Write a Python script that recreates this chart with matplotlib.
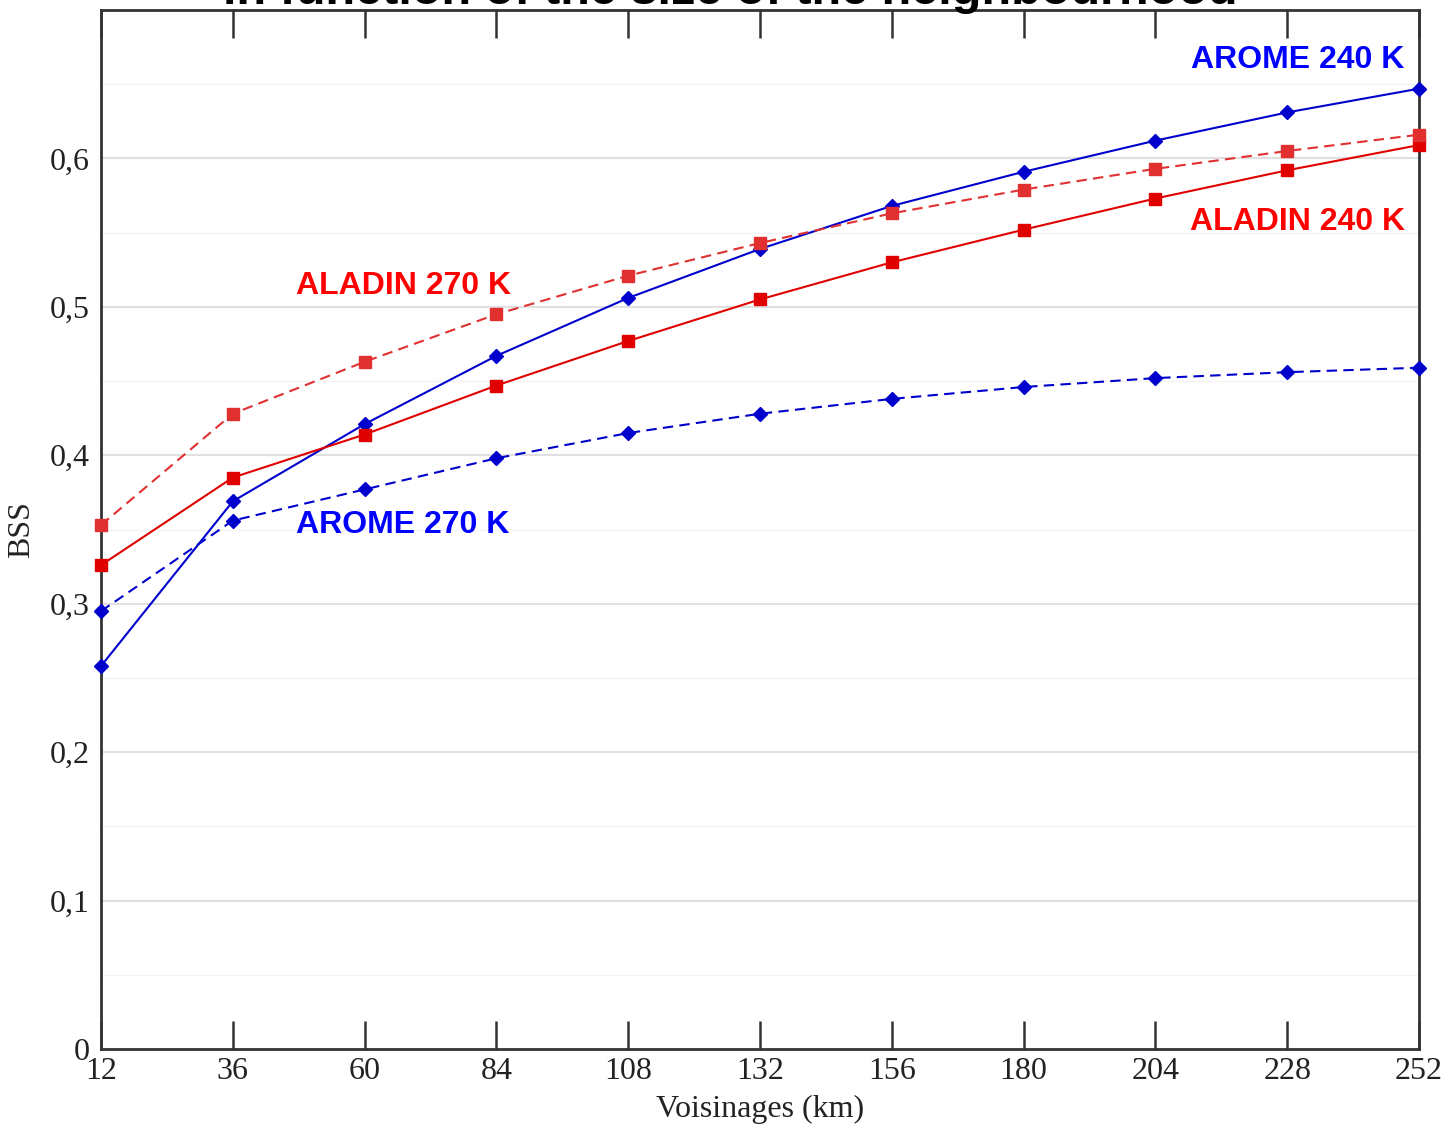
import numpy as np
import matplotlib.pyplot as plt

# neighbourhood sizes (km)
voisinages = [12, 36, 60, 84, 108, 132, 156, 180, 204, 228, 252]

# BSS values
arome_240 = [0.258, 0.369, 0.421, 0.467, 0.506, 0.539, 0.568, 0.591, 0.612, 0.631, 0.647]
arome_270 = [0.295, 0.356, 0.377, 0.398, 0.415, 0.428, 0.438, 0.446, 0.452, 0.456, 0.459]
aladin_240 = [0.326, 0.385, 0.414, 0.447, 0.477, 0.505, 0.530, 0.552, 0.573, 0.592, 0.609]
aladin_270 = [0.353, 0.428, 0.463, 0.495, 0.521, 0.543, 0.563, 0.579, 0.593, 0.605, 0.616]

yticks = [0, 0.1, 0.2, 0.3, 0.4, 0.5, 0.6]
ytick_labels = ['0', '0,1', '0,2', '0,3', '0,4', '0,5', '0,6']

blue = '#0000cc'
red = '#e00000'

fig = plt.figure(figsize=(14.47, 11.24), dpi=100)
ax = fig.add_axes([0.0698, 0.0667, 0.9108, 0.9244])

# grid lines (major + faint minor)
for y in np.arange(0.05, 0.7, 0.1):
    ax.axhline(y, color='#f3f3f3', lw=1, zorder=0)
for y in yticks[1:]:
    ax.axhline(y, color='#e0e0e0', lw=1.5, zorder=0)

ax.plot(voisinages, arome_240, '-', color=blue, lw=1.5, marker='D', ms=7, clip_on=False, zorder=3)
ax.plot(voisinages, arome_270, '--', color=blue, lw=1.5, marker='D', ms=7, dashes=(5, 3), clip_on=False, zorder=3)
ax.plot(voisinages, aladin_240, '-', color=red, lw=1.5, marker='s', ms=8, clip_on=False, zorder=3)
ax.plot(voisinages, aladin_270, '--', color='#e03030', lw=1.5, marker='s', ms=8, dashes=(5, 3), clip_on=False, zorder=3)

ax.set_xlim(12, 252)
ax.set_ylim(0, 0.7)
ax.set_xticks(voisinages)
ax.set_yticks(yticks)
ax.set_yticklabels(ytick_labels)
ax.tick_params(axis='x', direction='in', length=20, width=1.8, color='#333333',
               top=True, labelsize=23, pad=6, labelcolor='#222222')
ax.tick_params(axis='y', length=0, labelsize=23, pad=8, labelcolor='#222222')
for lab in ax.get_xticklabels() + ax.get_yticklabels():
    lab.set_family('Liberation Serif')
for sp in ax.spines.values():
    sp.set_linewidth(2)
    sp.set_color('#333333')

ax.set_xlabel('Voisinages (km)', family='Liberation Serif', fontsize=23, labelpad=6, color='#222222')
ax.set_ylabel('BSS', family='Liberation Serif', fontsize=23, labelpad=10, color='#222222')

kw = dict(family='Liberation Sans', fontweight='bold', fontsize=23)
ax.text(249.4, 0.666, 'AROME 240 K', color='#0000ff', ha='right', va='center', **kw)
ax.text(249.4, 0.557, 'ALADIN 240 K', color='#ff0000', ha='right', va='center', **kw)
ax.text(47.5, 0.514, 'ALADIN 270 K', color='#ff0000', ha='left', va='center', **kw)
ax.text(47.5, 0.353, 'AROME 270 K', color='#0000ff', ha='left', va='center', **kw)

# title cut off at the top of the picture
fig.text(0.505, 1.008, 'in function of the size of the neighbourhood', ha='center', va='center',
         family='Liberation Sans', fontweight='bold', fontsize=35)

fig.savefig('out.png', dpi=100)
